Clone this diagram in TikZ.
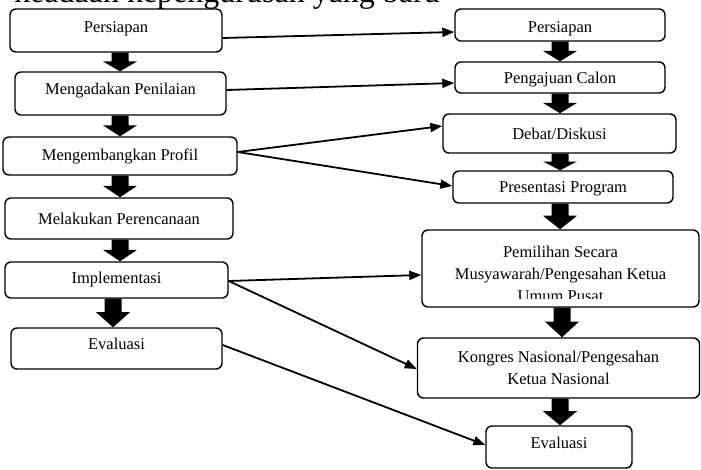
\documentclass[tikz,border=0pt]{standalone}
\usepackage{fontspec}
\setmainfont{Liberation Serif}
\usetikzlibrary{arrows.meta,calc}
\newcommand\blockarr[3]{%
  \fill let \p1=(#1.south -| #3), \p2=(#2.north -| #3), \n1={0.53*(\y1-\y2)} in
    (\x1-8.5pt,\y1) -- (\x1+8.5pt,\y1) -- (\x1+8.5pt,{\y2+\n1*1pt}) -- (\x1+17pt,{\y2+\n1*1pt})
    -- (\x2,\y2) -- (\x1-17pt,{\y2+\n1*1pt}) -- (\x1-8.5pt,{\y2+\n1*1pt}) -- cycle;}
\begin{document}
\begin{tikzpicture}[x=1pt,y=-1pt,
  box/.style={draw, line width=1.4pt, rounded corners=6pt, align=center,
    font=\fontsize{16.5}{22}\selectfont, inner sep=0pt},
  txt/.style={align=center, font=\fontsize{16.5}{22}\selectfont, inner sep=0pt},
  conn/.style={line width=1.8pt, -{Triangle[length=12pt,width=9pt]}}]
\useasboundingbox (0,0) rectangle (701,470);
\clip (0,0) rectangle (701,470);

% cropped heading text at the top
\node[font=\fontsize{32}{38}\selectfont, anchor=base east, inner sep=0pt] (head) at (440,3) {keadaan kepengurusan yang baru};

% left column
\node[box, minimum width=212pt, minimum height=43pt, text height=9.5pt, text depth=5.5pt] (pl) at (116,30.5) {Persiapan};
\node[box, minimum width=211pt, minimum height=43pt, text height=8.5pt, text depth=6.5pt] (ma) at (120.5,93.5) {Mengadakan Penilaian};
\node[box, minimum width=234pt, minimum height=38pt] (mp) at (120,156) {Mengembangkan Profil};
\node[box, minimum width=228pt, minimum height=41pt] (mr) at (119,218.5) {Melakukan Perencanaan};
\node[box, minimum width=223pt, minimum height=36pt] (im) at (116.5,280) {Implementasi};
\node[box, minimum width=211pt, minimum height=41pt, text height=8.5pt, text depth=6.5pt] (el) at (116.5,348.5) {Evaluasi};

% right column
\node[box, minimum width=210pt, minimum height=32pt, text height=15.1pt, text depth=0pt] (pr) at (560,25) {Persiapan};
\node[box, minimum width=210pt, minimum height=31pt, text height=13.8pt, text depth=1.1pt] (pc) at (560,77.5) {Pengajuan Calon};
\node[box, minimum width=233pt, minimum height=39pt] (dd) at (559.5,133.5) {Debat/Diskusi};
\node[box, minimum width=220pt, minimum height=32pt, text height=13.3pt, text depth=1.6pt] (pp) at (563,187) {Presentasi Program};
\node[box, minimum width=277pt, minimum height=77pt] (pm) at (560.5,268.5) {};
\begin{scope}
  \clip (423,231) rectangle (699,298);
  \node[txt] (pmt) at (560.5,274) {Pemilihan Secara\\Musyawarah/Pengesahan Ketua\\Umum Pusat};
\end{scope}
\node[box, minimum width=282pt, minimum height=60pt] (kn) at (558.5,368) {Kongres Nasional/Pengesahan\\Ketua Nasional};
\node[box, minimum width=146pt, minimum height=42pt, text height=9.3pt, text depth=5.6pt] (er) at (559,447) {Evaluasi};

% x positions of the block arrows
\coordinate (xl) at (120,0);
\coordinate (xl5) at (113,0);
\coordinate (xr) at (560,0);
\coordinate (xr5) at (562,0);

\blockarr{pl}{ma}{xl}
\blockarr{ma}{mp}{xl}
\blockarr{mp}{mr}{xl}
\blockarr{mr}{im}{xl}
\blockarr{im}{el}{xl5}
\blockarr{pr}{pc}{xr}
\blockarr{pc}{dd}{xr}
\blockarr{dd}{pp}{xr}
\blockarr{pp}{pm}{xr}
\blockarr{pm}{kn}{xr5}
\blockarr{kn}{er}{xr}

% connectors
\draw[conn] ([yshift=-7.5pt]pl.east) -- ([yshift=-7pt]pr.west);
\draw[conn] ([yshift=3.5pt]ma.east) -- ([yshift=-5.5pt]pc.west);
\draw[conn] ([yshift=4pt]mp.east) -- ([yshift=7.5pt]dd.west);
\draw[conn] ([yshift=4pt]mp.east) -- ([yshift=1pt]pp.west);
\draw[conn] ([yshift=-1pt]im.east) -- ([yshift=-6.5pt]pm.west);
\draw[conn] ([yshift=-1pt]im.east) -- ([yshift=-1pt]kn.west);
\draw[conn] ([yshift=3.5pt]el.east) -- ([yshift=2pt]er.west);
\end{tikzpicture}
\end{document}
